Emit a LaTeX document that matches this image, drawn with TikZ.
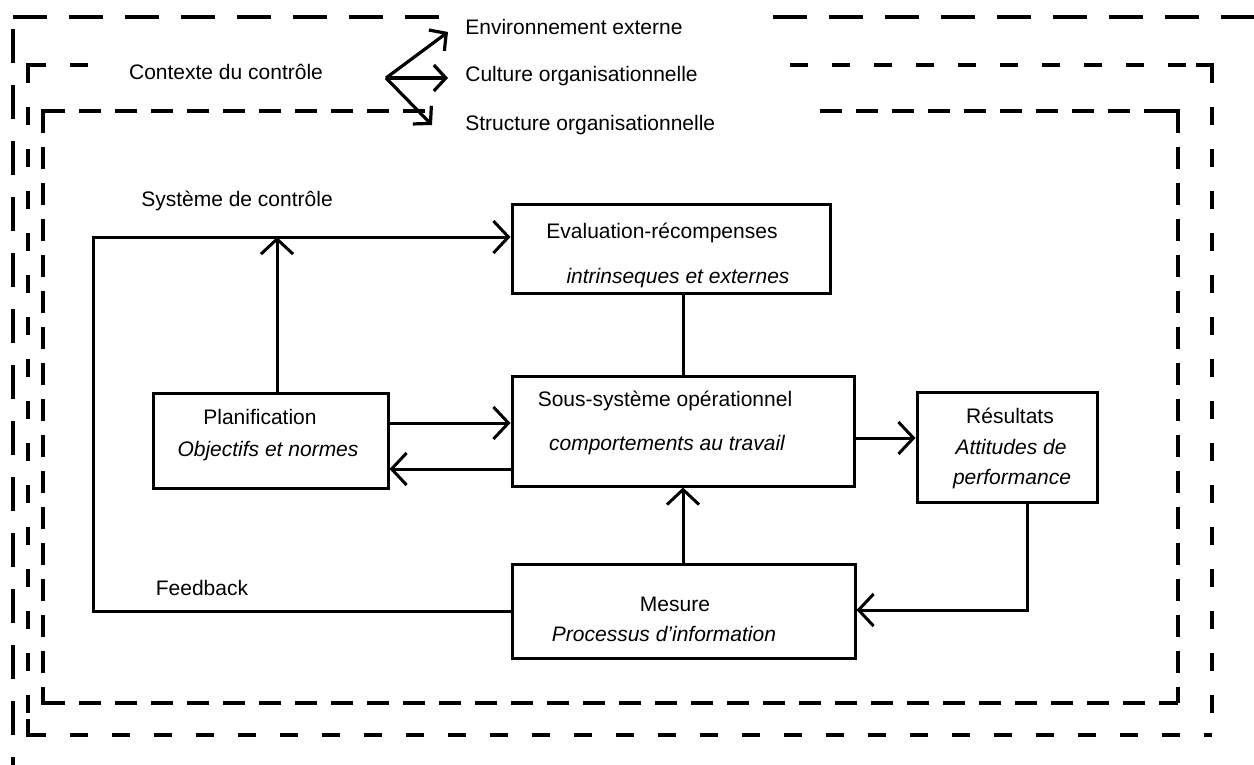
\documentclass[tikz,border=0pt]{standalone}
\usepackage{fontspec}
\setmainfont{Liberation Sans}
\usetikzlibrary{arrows.meta}
\begin{document}
\begin{tikzpicture}[x=0.5pt,y=-0.5pt,
  box/.style={draw,line width=1.5pt,rectangle,inner sep=0pt},
  lbl/.style={inner sep=0pt,font=\fontsize{10.5pt}{12pt}\selectfont,text height=1.5ex,text depth=.25ex},
  lbli/.style={lbl,font=\fontsize{10.5pt}{12pt}\selectfont\itshape},
  conn/.style={line width=1.5pt},
  arr/.style={conn,-{Straight Barb[length=7.5pt,width=16pt]}},
  farr/.style={line width=1.6pt,-{Straight Barb[length=6pt,width=13pt]}},
  outerfr/.style={line width=1.6pt,dash pattern=on 17pt off 11pt},
  midfr/.style={line width=1.6pt,dash pattern=on 9pt off 12pt},
  innfr/.style={line width=1.6pt,dash pattern=on 11pt off 7pt},
  corner/.style={line width=1.6pt}]
\useasboundingbox (0,0) rectangle (1254,765);

% ---------- frames ----------
\coordinate (oTL) at (13,17);
\coordinate (oTa) at (450,17);
\coordinate (oTb) at (773,17);
\coordinate (oTR) at (1254,17);
\coordinate (oBL) at (13,765);
\draw[outerfr] (oTL) -- (oTa);
\draw[outerfr] (oTb) -- (oTR);
\draw[outerfr] ([yshift=-6pt]oTL) -- (oBL);

\coordinate (mTL) at (28,65);
\coordinate (mTa) at (108,65);
\coordinate (mTb) at (790,65);
\coordinate (mTR) at (1212,65);
\coordinate (mBR) at (1212,735);
\coordinate (mBL) at (28,735);
\draw[midfr] (mTL) -- (mTa);
\draw[midfr] (mTb) -- (mTR);
\draw[midfr] (mTR) -- (mBR);
\draw[midfr] (mBL) -- (mBR);
\draw[midfr] (mTL) -- (mBL);
\draw[corner] ([yshift=-8pt]mTL) -- (mTL) -- ([xshift=8pt]mTL);
\draw[corner] ([xshift=-8pt]mTR) -- (mTR) -- ([yshift=-8pt]mTR);
\draw[corner] ([yshift=8pt]mBL) -- (mBL) -- ([xshift=8pt]mBL);

\coordinate (iTL) at (43,111);
\coordinate (iTa) at (425,111);
\coordinate (iTb) at (820,111);
\coordinate (iTR) at (1178,111);
\coordinate (iBR) at (1178,703);
\coordinate (iBL) at (43,703);
\draw[innfr] (iTL) -- (iTa);
\draw[innfr] (iTb) -- (iTR);
\draw[innfr] (iTR) -- (iBR);
\draw[innfr] (iBL) -- (iBR);
\draw[innfr] (iTL) -- (iBL);
\draw[corner] ([yshift=-8pt]iTL) -- (iTL) -- ([xshift=8pt]iTL);
\draw[corner] ([xshift=-8pt]iTR) -- (iTR) -- ([yshift=-8pt]iTR);
\draw[corner] ([yshift=8pt]iBL) -- (iBL) -- ([xshift=8pt]iBL);

% ---------- top labels and fork ----------
\node[lbl] (ctx) at (226,73) {Contexte du contrôle};
\node[lbl,anchor=west] (env) at (465,28) {Environnement externe};
\node[lbl,anchor=west] (cul) at (465,75) {Culture organisationnelle};
\node[lbl,anchor=west] (str) at (465,124) {Structure organisationnelle};
\coordinate (fk) at (386,78);
\coordinate (fkE) at (448,32);
\coordinate (fkC) at (448,78);
\coordinate (fkS) at (432,125);
\draw[farr] (fk) -- (fkE);
\draw[farr] (fk) -- (fkC);
\draw[farr] (fk) -- (fkS);

\node[lbl] (sys) at (237,200) {Système de contrôle};
\node[lbl] (fb) at (202,589) {Feedback};

% ---------- boxes ----------
\node[box,minimum width=159pt,minimum height=44pt] (eval) at (671,249) {};
\node[box,minimum width=117.5pt,minimum height=47.5pt] (plan) at (270.5,440.5) {};
\node[box,minimum width=171pt,minimum height=55pt] (sous) at (683,431) {};
\node[box,minimum width=90pt,minimum height=55pt] (res) at (1007,447) {};
\node[box,minimum width=171.5pt,minimum height=47pt] (mes) at (683.5,611) {};

\node[lbl] (evalA) at (662,232) {Evaluation-récompenses};
\node[lbli] (evalB) at (678,277) {intrinseques et externes};
\node[lbl] (planA) at (260,418) {Planification};
\node[lbli] (planB) at (268,450) {Objectifs et normes};
\node[lbl] (sousA) at (665,400) {Sous-système opérationnel};
\node[lbli] (sousB) at (667,444) {comportements au travail};
\node[lbl] (resA) at (1010,417) {Résultats};
\node[lbli] (resB) at (1011,448) {Attitudes de};
\node[lbli] (resC) at (1012,478) {performance};
\node[lbl] (mesA) at (675,605) {Mesure};
\node[lbli] (mesB) at (664,635) {Processus d'information};

% ---------- connectors ----------
\coordinate (fbT) at (93,237);
\coordinate (upX) at (277,237);
\coordinate (yPS) at (0,423);
\coordinate (ySP) at (0,469);
\coordinate (ySR) at (0,438);
\coordinate (rc) at (1027,610);

\draw[arr] (mes.west) -- (mes.west -| fbT) -- (fbT) -- (eval.west |- fbT);
\draw[arr] (plan.north -| upX) -- (upX);
\draw[arr] (plan.east |- yPS) -- (sous.west |- yPS);
\draw[arr] (sous.west |- ySP) -- (plan.east |- ySP);
\draw[conn] (eval.south -| sous.north) -- (sous.north);
\draw[arr] (mes.north -| sous.south) -- (sous.south);
\draw[arr] (sous.east |- ySR) -- (res.west |- ySR);
\draw[arr] (res.south -| rc) -- (rc) -- (mes.east |- rc);
\end{tikzpicture}
\end{document}
